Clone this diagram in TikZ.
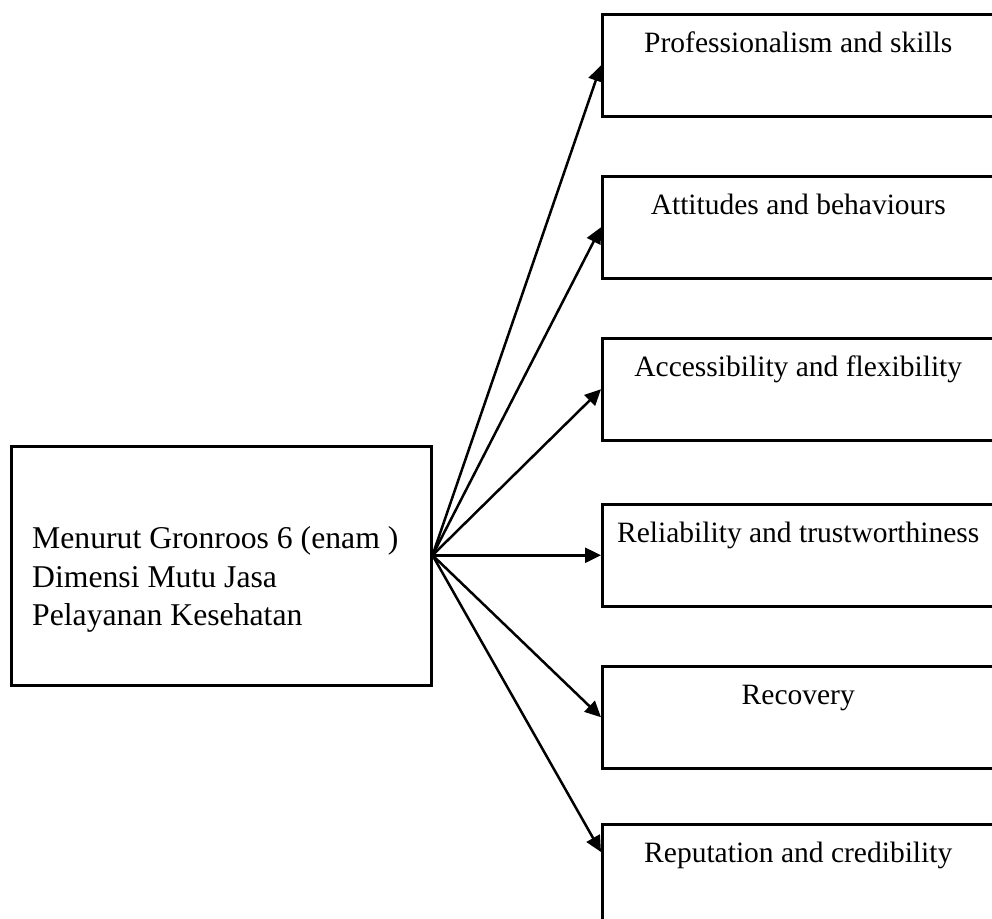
\documentclass[tikz,border=0pt]{standalone}
\usepackage{fontspec}
\setmainfont{Liberation Serif}
\usetikzlibrary{arrows.meta,calc}
\begin{document}
\begin{tikzpicture}[x=1pt,y=-1pt,
  frame/.style={draw,line width=2.5pt,rectangle,inner sep=0pt},
  dimbox/.style={frame,minimum width=392pt,minimum height=102pt,anchor=north west},
  dimtext/.style={inner sep=0pt,anchor=base,font=\fontsize{29.5}{36}\selectfont},
  srctext/.style={inner sep=0pt,anchor=base west,font=\fontsize{31.7}{39}\selectfont},
  link/.style={line width=2.5pt,-{Triangle[length=16pt,width=15pt]}}]
\useasboundingbox (0,0) rectangle (992,918);

% source box with its three lines of text
\node[frame,minimum width=420pt,minimum height=239pt,anchor=north west] (src) at (10,445) {};
\node[srctext] (l1) at (32,548) {Menurut Gronroos 6 (enam )};
\node[srctext] (l2) at (32,587) {Dimensi Mutu Jasa};
\node[srctext] (l3) at (32,625) {Pelayanan Kesehatan};

% dimension boxes
\node[dimbox] (b1) at (601,13) {};
\node[dimbox] (b2) at (601,175) {};
\node[dimbox] (b3) at (601,337) {};
\node[dimbox] (b4) at (601,503) {};
\node[dimbox] (b5) at (601,665) {};
\node[dimbox] (b6) at (601,823) {};

\node[dimtext] (t1) at ($(b1.north)+(0,39)$) {Professionalism and skills};
\node[dimtext] (t2) at ($(b2.north)+(0,39)$) {Attitudes and behaviours};
\node[dimtext] (t3) at ($(b3.north)+(0,39)$) {Accessibility and flexibility};
\node[dimtext] (t4) at ($(b4.north)+(0,39)$) {Reliability and trustworthiness};
\node[dimtext] (t5) at ($(b5.north)+(0,39)$) {Recovery};
\node[dimtext] (t6) at ($(b6.north)+(0,39)$) {Reputation and credibility};

% connectors fanning out from the source box
\coordinate (hub) at (src.east |- b4.west);
\coordinate (e6) at ($(b6.north west)+(0,29)$);
\draw[link] (hub) -- (b1.west);
\draw[link] (hub) -- (b2.west);
\draw[link] (hub) -- (b3.west);
\draw[link] (hub) -- (b4.west);
\draw[link] (hub) -- (b5.west);
\draw[link] (hub) -- (e6);
\end{tikzpicture}
\end{document}
